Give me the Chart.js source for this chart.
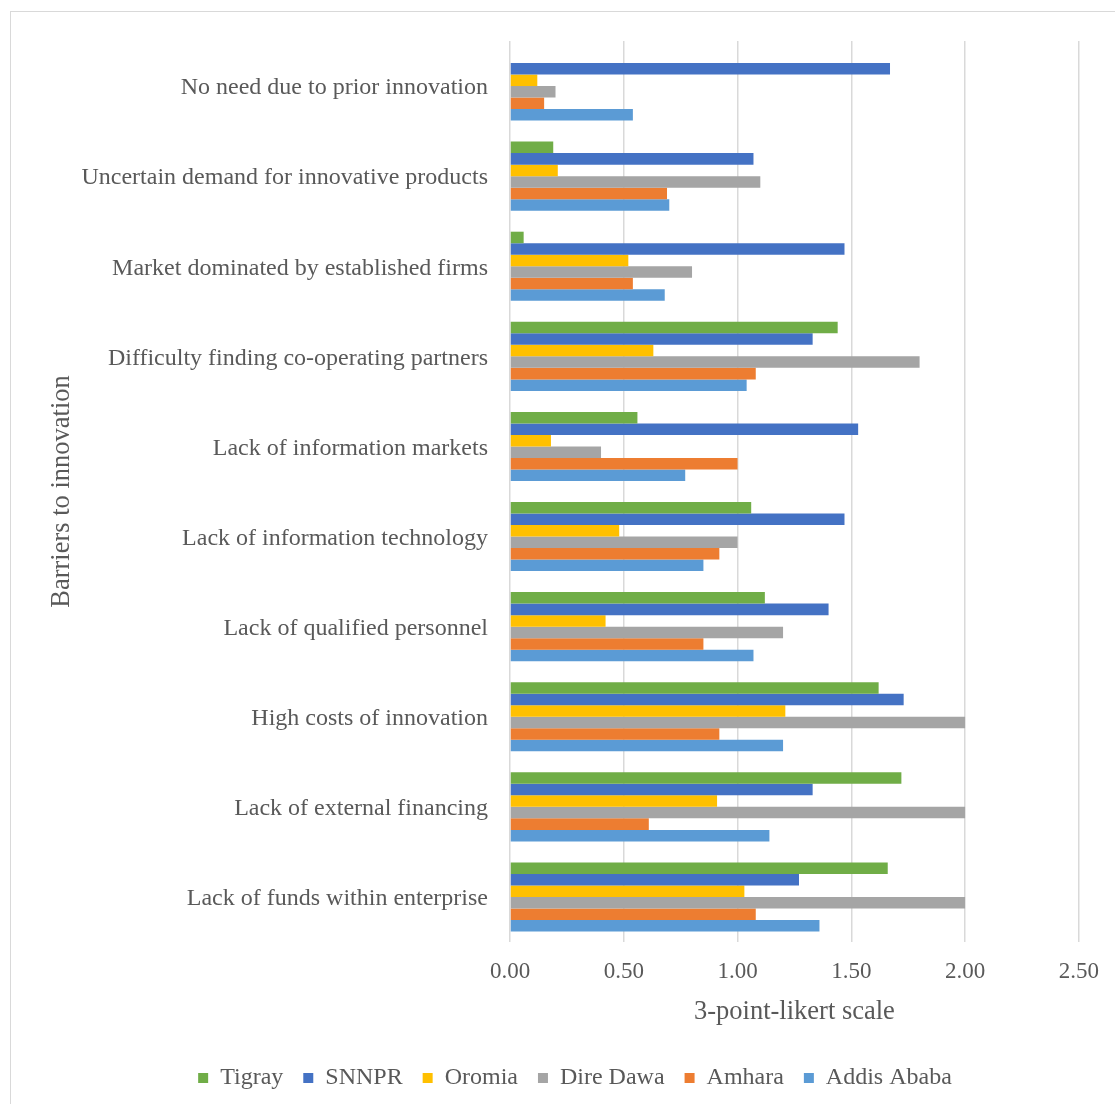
<!DOCTYPE html>
<html>
<head>
<meta charset="utf-8">
<script src="https://cdn.jsdelivr.net/npm/chart.js@4.4.0/dist/chart.umd.min.js"></script>
<style>
  html, body { margin: 0; padding: 0; background: #ffffff; overflow: hidden; }
  #frame { position: absolute; left: 10px; top: 11px; width: 1130px; height: 1130px; border: 1.5px solid #d9d9d9; box-sizing: border-box; }
  #wrap { position: absolute; left: 0; top: 0; width: 1115px; height: 1104px; }
</style>
</head>
<body>
<div id="frame"></div>
<div id="wrap"><canvas id="c"></canvas></div>
<script>
const categories = [
  "No need due to prior innovation",
  "Uncertain demand for innovative products",
  "Market dominated by established firms",
  "Difficulty finding co-operating partners",
  "Lack of information markets",
  "Lack of information technology",
  "Lack of qualified personnel",
  "High costs of innovation",
  "Lack of external financing",
  "Lack of funds within enterprise"
];
const tigray     = [0.00, 0.19, 0.06, 1.44, 0.56, 1.06, 1.12, 1.62, 1.72, 1.66];
const snnpr      = [1.67, 1.07, 1.47, 1.33, 1.53, 1.47, 1.40, 1.73, 1.33, 1.27];
const oromia     = [0.12, 0.21, 0.52, 0.63, 0.18, 0.48, 0.42, 1.21, 0.91, 1.03];
const direDawa   = [0.20, 1.10, 0.80, 1.80, 0.40, 1.00, 1.20, 2.00, 2.00, 2.00];
const amhara     = [0.15, 0.69, 0.54, 1.08, 1.00, 0.92, 0.85, 0.92, 0.61, 1.08];
const addisAbaba = [0.54, 0.70, 0.68, 1.04, 0.77, 0.85, 1.07, 1.20, 1.14, 1.36];
const xTicks = [0, 0.5, 1.0, 1.5, 2.0, 2.5];

const FONT = "'Liberation Serif', 'Times New Roman', serif";
const TXT = '#595959';

const series = [
  { label: 'Tigray', data: tigray, color: '#70AD47' },
  { label: 'SNNPR', data: snnpr, color: '#4472C4' },
  { label: 'Oromia', data: oromia, color: '#FFC000' },
  { label: 'Dire Dawa', data: direDawa, color: '#A5A5A5' },
  { label: 'Amhara', data: amhara, color: '#ED7D31' },
  { label: 'Addis Ababa', data: addisAbaba, color: '#5B9BD5' }
];

const legendShift = {
  id: 'legendShift',
  afterLayout(chart) {
    const l = chart.legend;
    if (l) { l.left += 25; l.right += 25; }
  }
};

new Chart(document.getElementById('c'), {
  type: 'bar',
  data: {
    labels: categories,
    datasets: series.map(s => ({
      label: s.label,
      data: s.data,
      backgroundColor: s.color,
      borderWidth: 0,
      categoryPercentage: 0.767,
      barPercentage: 1.0
    }))
  },
  options: {
    indexAxis: 'y',
    responsive: true,
    maintainAspectRatio: false,
    animation: false,
    layout: { padding: { top: 41, right: 35, left: 20, bottom: 4 } },
    plugins: {
      tooltip: { enabled: false },
      legend: {
        position: 'bottom',
        labels: {
          font: { family: FONT, size: 24 },
          color: TXT,
          boxWidth: 10,
          boxHeight: 10,
          padding: 20
        }
      }
    },
    scales: {
      x: {
        min: 0,
        max: 2.5,
        afterBuildTicks(scale) { scale.ticks = xTicks.map(v => ({ value: v })); },
        ticks: {
          font: { family: FONT, size: 23 },
          color: TXT,
          padding: 16,
          callback: v => Number(v).toFixed(2)
        },
        grid: { color: '#d9d9d9', lineWidth: 1.5, drawTicks: false },
        border: { display: false },
        title: {
          display: true,
          text: '3-point-likert scale',
          font: { family: FONT, size: 26.5 },
          color: TXT,
          padding: { top: 0, bottom: 18 }
        },
        afterFit(scale) { scale.height = 104; }
      },
      y: {
        grid: { display: false, drawTicks: false },
        border: { display: false },
        ticks: {
          font: { family: FONT, size: 24 },
          color: TXT,
          padding: 22,
          labelOffset: 2
        },
        title: {
          display: true,
          text: 'Barriers to innovation',
          font: { family: FONT, size: 26.5 },
          color: TXT,
          padding: { top: 26, bottom: 0 }
        },
        afterFit(scale) { scale.width = 490; }
      }
    }
  },
  plugins: [legendShift]
});
</script>
</body>
</html>
